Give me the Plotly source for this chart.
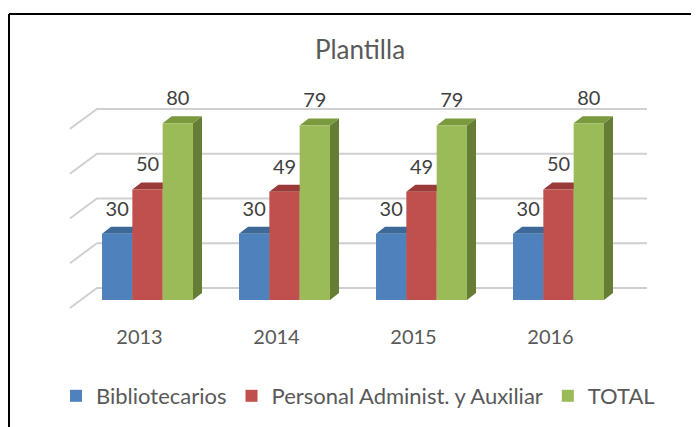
import plotly.graph_objects as go

# ---------------- data ----------------
categories = ["2013", "2014", "2015", "2016"]
series_names = ["Bibliotecarios", "Personal Administ. y Auxiliar", "TOTAL"]
bibliotecarios = [30, 30, 30, 30]
personal = [50, 49, 49, 50]
total = [80, 79, 79, 80]
grid_values = [0, 20, 40, 60, 80]
title_text = "Plantilla"

series_values = [bibliotecarios, personal, total]
front_colors = ["#4f81bd", "#c0504d", "#9bbb59"]
top_colors = ["#3d6999", "#9b3b39", "#7a9a3d"]
side_colors = ["#385d8a", "#8c3836", "#657d35"]

FONT = "Lato"
TXT = "#595959"

# ---------------- geometry (style constants) ----------------
# the page body has an 8px default margin, so the figure is shrunk/shifted by it
PAGE_OFF = 8
W, H = 699 - PAGE_OFF, 427 - PAGE_OFF


def fx(p):   # reference pixel x -> paper fraction
    return (p - PAGE_OFF) / W


def fy(p):   # reference pixel y -> paper fraction
    return 1 - (p - PAGE_OFF) / H


X0PIX, XSTEP = 79.0, 137.0      # pixel of category -0.5, px per category
Y0PIX, YSCALE = 300.0, 2.21     # pixel of value 0, px per unit
XR = [-0.7, 3.8]
YR = [-5, 95]
BARGAP = 0.336
bar_w = (1 - BARGAP) / 3
DX = 9.0 / XSTEP                 # depth offset (category units)
DY = 7.0 / YSCALE                # depth offset (value units)

xl_pix = X0PIX + (XR[0] + 0.5) * XSTEP
xr_pix = X0PIX + (XR[1] + 0.5) * XSTEP
yb_pix = Y0PIX - YR[0] * YSCALE
yt_pix = Y0PIX - YR[1] * YSCALE
xdom = [fx(xl_pix), fx(xr_pix)]
ydom = [fy(yb_pix), fy(yt_pix)]

# back-wall grid geometry
BACK_OFF = 12.0 / YSCALE
FRONT_OFF = -8.0 / YSCALE
GSCALE = 1.013
BACK_X0, BACK_X1, FRONT_X = -0.369, 3.646, -0.566

fig = go.Figure()

# gridlines on the back wall + left wall diagonals
gx, gy = [], []
for v in grid_values:
    yb = v * GSCALE + BACK_OFF
    yf = v * GSCALE + FRONT_OFF
    gx += [FRONT_X, BACK_X0, BACK_X1, None]
    gy += [yf, yb, yb, None]
fig.add_trace(go.Scatter(x=gx, y=gy, mode="lines",
                         line=dict(color="#d0d0d0", width=2),
                         hoverinfo="skip", showlegend=False,
                         xaxis="x", yaxis="y"))

# side and top faces of the 3D bars
for s, vals in enumerate(series_values):
    sx, sy, tx, ty = [], [], [], []
    for c, v in enumerate(vals):
        left = c - (1 - BARGAP) / 2 + s * bar_w
        right = left + bar_w
        sx += [right, right + DX, right + DX, right, right, None]
        sy += [0, DY, v + DY, v, 0, None]
        tx += [left, left + DX, right + DX, right, left, None]
        ty += [v, v + DY, v + DY, v, v, None]
    fig.add_trace(go.Scatter(x=sx, y=sy, mode="lines", fill="toself",
                             fillcolor=side_colors[s], line=dict(width=0, color=side_colors[s]),
                             hoverinfo="skip", showlegend=False, xaxis="x", yaxis="y"))
    fig.add_trace(go.Scatter(x=tx, y=ty, mode="lines", fill="toself",
                             fillcolor=top_colors[s], line=dict(width=0, color=top_colors[s]),
                             hoverinfo="skip", showlegend=False, xaxis="x", yaxis="y"))

# front faces (real bars) on the overlaid subplot
xs = list(range(len(categories)))
for s, vals in enumerate(series_values):
    fig.add_trace(go.Bar(x=xs, y=vals, name=series_names[s],
                         marker=dict(color=front_colors[s], line=dict(width=0)),
                         xaxis="x2", yaxis="y2"))

# data labels
LABEL_OFF = 23.0 / YSCALE
for s, vals in enumerate(series_values):
    lx = [c - (1 - BARGAP) / 2 + (s + 0.5) * bar_w for c in xs]
    ly = [v + LABEL_OFF for v in vals]
    fig.add_trace(go.Scatter(x=lx, y=ly, mode="text", text=[str(v) for v in vals],
                             textposition="middle center",
                             textfont=dict(family=FONT, size=20, color="#404040"),
                             hoverinfo="skip", showlegend=False, cliponaxis=False,
                             xaxis="x2", yaxis="y2"))

axis_common = dict(showgrid=False, zeroline=False, showline=False, fixedrange=True)
fig.update_layout(
    width=W, height=H,
    margin=dict(l=0, r=0, t=0, b=0),
    paper_bgcolor="white", plot_bgcolor="rgba(0,0,0,0)",
    barmode="group", bargap=BARGAP, bargroupgap=0,
    title=dict(text=title_text, x=fx(360), y=fy(50), xanchor="center", yanchor="middle",
               font=dict(family=FONT, size=26, color=TXT)),
    xaxis=dict(domain=xdom, range=XR, tickmode="array", tickvals=xs, ticktext=categories,
               ticks="", ticklabelshift=-8, ticklabelstandoff=12,
               tickfont=dict(family=FONT, size=20, color=TXT), **axis_common),
    yaxis=dict(domain=ydom, range=YR, showticklabels=False, **axis_common),
    xaxis2=dict(domain=xdom, range=XR, overlaying="x", showticklabels=False, **axis_common),
    yaxis2=dict(domain=ydom, range=YR, overlaying="y", showticklabels=False, **axis_common),
    showlegend=True,
    legend=dict(orientation="h", x=fx(358), xanchor="center", y=fy(396), yanchor="middle",
                font=dict(family=FONT, size=22, color=TXT), bgcolor="rgba(0,0,0,0)"),
    shapes=[
        dict(type="line", xref="paper", yref="paper", x0=fx(9), x1=1, y0=fy(14), y1=fy(14),
             line=dict(color="black", width=2)),
        dict(type="line", xref="paper", yref="paper", x0=fx(9), x1=fx(9), y0=0, y1=fy(14),
             line=dict(color="black", width=2)),
    ],
)

fig.write_html("out.html")
